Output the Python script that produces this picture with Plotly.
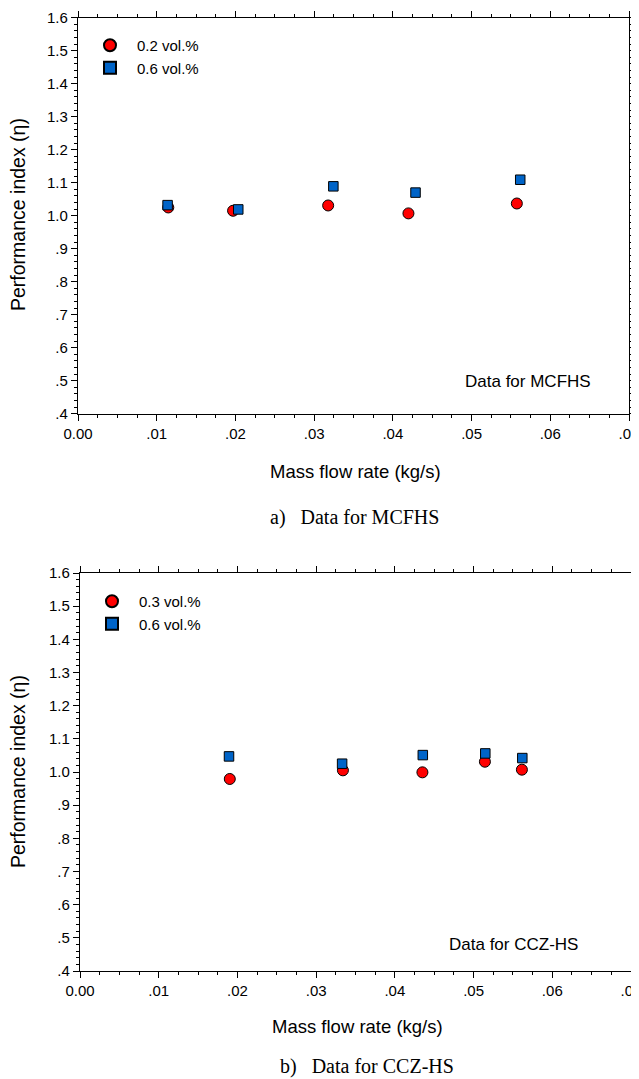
import plotly.graph_objects as go

# ---- data ----
mcfhs_x_02 = [0.01147, 0.0197, 0.03178, 0.04198, 0.05575]
mcfhs_y_02 = [1.025, 1.015, 1.031, 1.007, 1.037]
mcfhs_x_06 = [0.01138, 0.02036, 0.03244, 0.04288, 0.05618]
mcfhs_y_06 = [1.032, 1.019, 1.089, 1.070, 1.109]

ccz_x_03 = [0.01903, 0.0334, 0.0435, 0.05144, 0.05614]
ccz_y_03 = [0.979, 1.005, 0.999, 1.031, 1.007]
ccz_x_06 = [0.01893, 0.0333, 0.04355, 0.05149, 0.05619]
ccz_y_06 = [1.047, 1.025, 1.051, 1.056, 1.042]

x_tickvals = [0.0, 0.01, 0.02, 0.03, 0.04, 0.05, 0.06, 0.07]
x_ticktext = ["0.00", ".01", ".02", ".03", ".04", ".05", ".06", ".07"]
y_tickvals = [0.4, 0.5, 0.6, 0.7, 0.8, 0.9, 1.0, 1.1, 1.2, 1.3, 1.4, 1.5, 1.6]
y_ticktext = [".4", ".5", ".6", ".7", ".8", ".9", "1.0", "1.1", "1.2", "1.3", "1.4", "1.5", "1.6"]

OFF = 8  # page body margin
W, H = 639 - OFF, 1079 - OFF
FONT = "Liberation Sans, Arial, sans-serif"
SERIF = "Liberation Serif, Times New Roman, serif"
RED = "#FF0000"
BLUE = "#0064C8"

def py(p):
    return 1 - (p - OFF) / H

def px(p):
    return (p - OFF) / W

fig = go.Figure()

def add(x, y, name, symbol, color, size, xa, ya, legend):
    fig.add_trace(go.Scatter(
        x=x, y=y, mode="markers", name=name, xaxis=xa, yaxis=ya, legend=legend,
        marker=dict(symbol=symbol, color=color, size=size,
                    line=dict(color="black", width=1))))

add(mcfhs_x_02, mcfhs_y_02, "0.2 vol.%", "circle", RED, 11, "x", "y", "legend")
add(mcfhs_x_06, mcfhs_y_06, "0.6 vol.%", "square", BLUE, 9.5, "x", "y", "legend")
add(ccz_x_03, ccz_y_03, "0.3 vol.%", "circle", RED, 11, "x2", "y2", "legend2")
add(ccz_x_06, ccz_y_06, "0.6 vol.%", "square", BLUE, 9.5, "x2", "y2", "legend2")

TICKFONT = dict(family=FONT, size=15, color="black")

def xaxis(domain, anchor):
    return dict(domain=domain, anchor=anchor, range=[0, 0.07], automargin=False,
                tickmode="array", tickvals=x_tickvals, ticktext=x_ticktext,
                ticks="outside", ticklen=6, tickwidth=1, tickcolor="black",
                minor=dict(dtick=0.0025, tick0=0, ticks="outside", ticklen=3,
                           tickcolor="black", tickwidth=1, showgrid=False),
                showline=True, linecolor="black", linewidth=1.3, mirror="ticks",
                showgrid=False, zeroline=False, tickfont=TICKFONT,
                ticklabeloverflow="allow")

def yaxis(domain, anchor):
    return dict(domain=domain, anchor=anchor, range=[0.4, 1.6], automargin=False,
                tickmode="array", tickvals=y_tickvals, ticktext=y_ticktext,
                ticks="outside", ticklen=6, tickwidth=1, tickcolor="black",
                minor=dict(dtick=0.02, tick0=0.4, ticks="outside", ticklen=3,
                           tickcolor="black", tickwidth=1, showgrid=False),
                showline=True, linecolor="black", linewidth=1.3, mirror="ticks",
                showgrid=False, zeroline=False, tickfont=TICKFONT,
                ticklabeloverflow="allow")

xd1 = [px(78), px(629)]
xd2 = [px(80), px(631)]
yd1 = [py(413.7), py(17.7)]
yd2 = [py(971), py(573)]

ann = []
def text(x, y, s, size=13, family=FONT, angle=0, xanchor="center"):
    ann.append(dict(x=x, y=y, xref="paper", yref="paper", text=s, showarrow=False,
                    xanchor=xanchor, yanchor="middle", textangle=angle,
                    font=dict(family=family, size=size, color="black")))

# panel a
text(px(355), py(471), "Mass flow rate (kg/s)", size=18.5)
text(px(18), py(215), "Performance index (η)", size=19.5, angle=-90)
text(px(528), py(381), "Data for MCFHS", size=17)
text(px(354), py(517), "a)&nbsp;&nbsp;&nbsp;Data for MCFHS", size=20, family=SERIF)
# panel b
text(px(357), py(1026), "Mass flow rate (kg/s)", size=18.5)
text(px(18), py(772), "Performance index (η)", size=19.5, angle=-90)
text(px(513), py(944), "Data for CCZ-HS", size=17)
text(px(367), py(1066), "b)&nbsp;&nbsp;&nbsp;Data for CCZ-HS", size=20, family=SERIF)

legend_style = dict(bgcolor="rgba(0,0,0,0)", borderwidth=0,
                    font=dict(family=FONT, size=15, color="black"),
                    xanchor="left", yanchor="top", tracegroupgap=0,
                    itemsizing="constant", itemwidth=44)

fig.update_layout(
    template="none",
    width=W, height=H, margin=dict(l=0, r=0, t=0, b=0, autoexpand=False),
    paper_bgcolor="white", plot_bgcolor="white",
    xaxis=xaxis(xd1, "y"), yaxis=yaxis(yd1, "x"),
    xaxis2=xaxis(xd2, "y2"), yaxis2=yaxis(yd2, "x2"),
    legend=dict(x=px(83), y=py(29), **legend_style),
    legend2=dict(x=px(85), y=py(585), **legend_style),
    annotations=ann,
    showlegend=True,
)

fig.write_html("out.html")
